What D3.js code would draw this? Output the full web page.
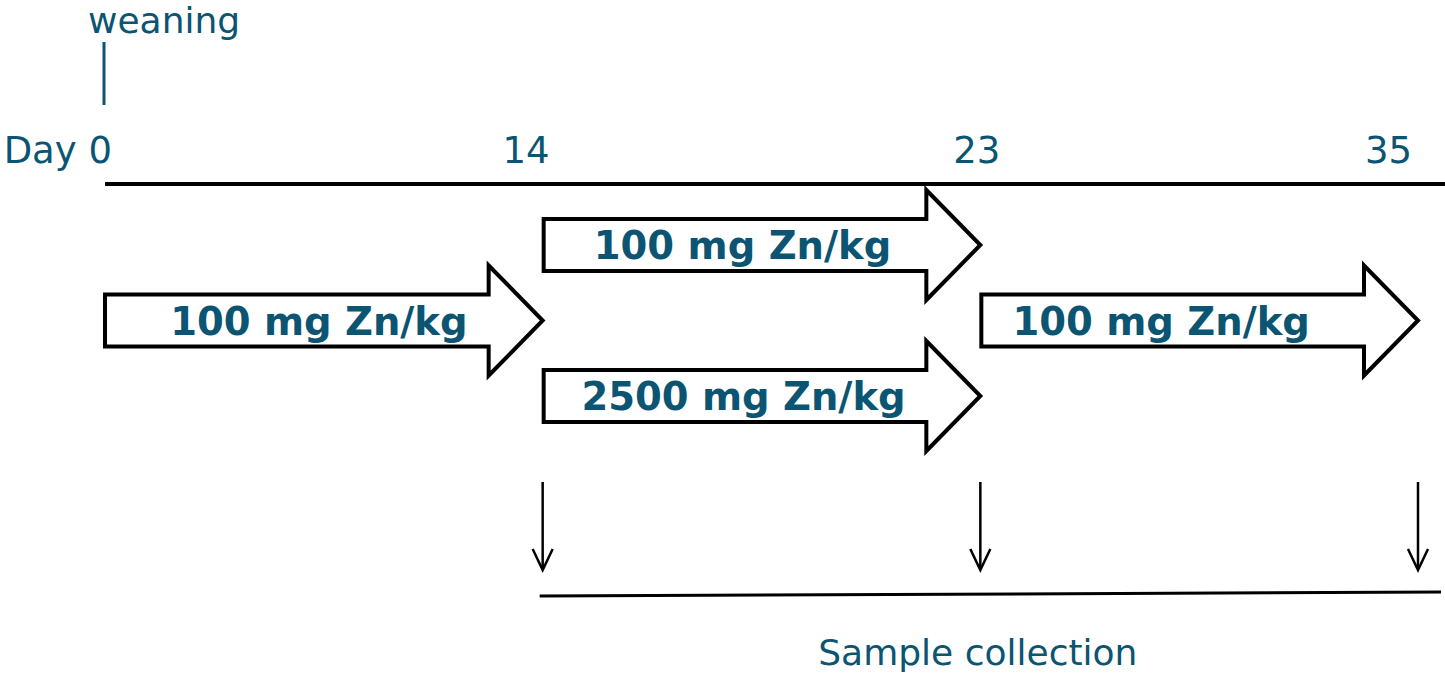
<!DOCTYPE html>
<html><head><meta charset="utf-8">
<script src="https://cdn.jsdelivr.net/npm/d3@7"></script>
<style>
html,body{margin:0;padding:0;background:#fff;}
svg{display:block;}
</style></head>
<body>
<svg id="c" width="1445" height="674"></svg>
<script>
// ---- data ----
const days = [0, 14, 23, 35];
const dayLabels = ["Day 0", "14", "23", "35"];
const phaseStart = [0, 14, 14, 23];
const phaseEnd = [14, 23, 23, 35];
const phaseRow = ["middle", "upper", "lower", "middle"];
const phaseLabel = ["100 mg Zn/kg", "100 mg Zn/kg", "2500 mg Zn/kg", "100 mg Zn/kg"];
const rows = ["upper", "middle", "lower"];
const sampleDays = [14, 23, 35];
const eventDay = 0;
const eventLabel = "weaning";
const sampleLabel = "Sample collection";

// ---- styles / layout tweaks ----
const teal = "#0b5573";
const font = "'DejaVu Sans', Verdana, sans-serif";
const dayLabelNudge = [7, 7, 20, -6];
const phaseLabelNudge = [22, 8, 9, -11];

const svg = d3.select("#c");
const x = d3.scalePoint().domain(days).range([105, 1418]);
const y = d3.scalePoint().domain(rows).range([245, 396]);

// weaning marker
svg.append("line").attr("x1", x(eventDay) - 1).attr("x2", x(eventDay) - 1)
  .attr("y1", 42).attr("y2", 105).attr("stroke", teal).attr("stroke-width", 3);
svg.append("text").attr("x", x(eventDay) - 17).attr("y", 33)
  .attr("font-family", font).attr("font-size", 36).attr("fill", teal).text(eventLabel);

// day labels
svg.selectAll("text.day").data(days).join("text").attr("class", "day")
  .attr("x", (d, i) => x(d) + dayLabelNudge[i]).attr("y", 163).attr("text-anchor", "end")
  .attr("font-family", font).attr("font-size", 37).attr("fill", teal)
  .text((d, i) => dayLabels[i]);

// timeline
svg.append("line").attr("x1", x(0)).attr("x2", 1445).attr("y1", 184).attr("y2", 184)
  .attr("stroke", "#000").attr("stroke-width", 4);

// block arrows
const bh = 26, hh = 55, hl = 54;
function arrowPath(x0, x1, cy) {
  const p = d3.path();
  p.moveTo(x0, cy - bh);
  p.lineTo(x1 - hl, cy - bh);
  p.lineTo(x1 - hl, cy - hh);
  p.lineTo(x1, cy);
  p.lineTo(x1 - hl, cy + hh);
  p.lineTo(x1 - hl, cy + bh);
  p.lineTo(x0, cy + bh);
  p.closePath();
  return p.toString();
}
const phases = phaseStart.map((s, i) => ({ s, e: phaseEnd[i], row: phaseRow[i], label: phaseLabel[i], i }));
svg.selectAll("path.phase").data(phases).join("path").attr("class", "phase")
  .attr("d", d => arrowPath(x(d.s) + (d.s === 0 ? 0 : 1), x(d.e), y(d.row)))
  .attr("fill", "#fff").attr("stroke", "#000").attr("stroke-width", 4)
  .attr("stroke-linejoin", "miter");
svg.selectAll("text.phase").data(phases).join("text").attr("class", "phase")
  .attr("x", d => (x(d.s) + x(d.e) - hl) / 2 + phaseLabelNudge[d.i]).attr("y", d => y(d.row) + 14)
  .attr("text-anchor", "middle").attr("font-family", font).attr("font-weight", "bold")
  .attr("font-size", 38.5).attr("fill", teal).text(d => d.label);

// sample collection arrows
const sg = svg.selectAll("g.sample").data(sampleDays).join("g").attr("class", "sample");
sg.append("line").attr("x1", d => x(d)).attr("x2", d => x(d)).attr("y1", 482).attr("y2", 569)
  .attr("stroke", "#000").attr("stroke-width", 2.5);
sg.append("path").attr("d", d => `M${x(d) - 10},549 L${x(d)},570 L${x(d) + 10},549`)
  .attr("fill", "none").attr("stroke", "#000").attr("stroke-width", 2.5);
svg.append("line").attr("x1", x(sampleDays[0]) - 3).attr("x2", 1441)
  .attr("y1", 596).attr("y2", 592).attr("stroke", "#000").attr("stroke-width", 3);
svg.append("text").attr("x", (x(sampleDays[0]) + 1441) / 2 - 14).attr("y", 665)
  .attr("text-anchor", "middle").attr("font-family", font).attr("font-size", 36)
  .attr("fill", teal).text(sampleLabel);
</script>
</body></html>
